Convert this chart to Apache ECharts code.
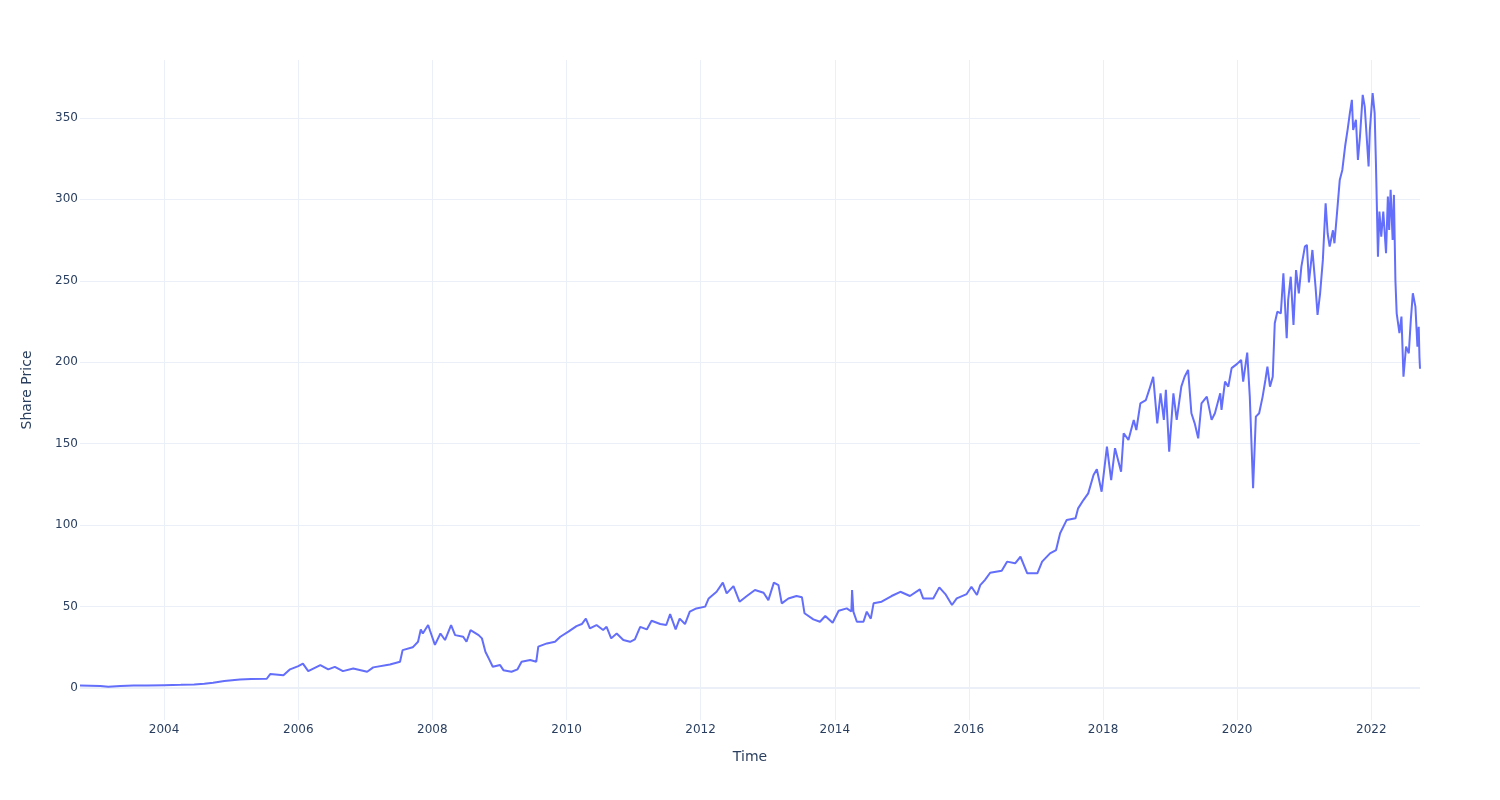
<!DOCTYPE html>
<html>
<head>
<meta charset="utf-8">
<script src="https://cdn.jsdelivr.net/npm/echarts@6/dist/echarts.min.js"></script>
<style>html,body{margin:0;padding:0;background:#fff}#chart{width:1500px;height:800px}</style>
</head>
<body>
<div id="chart"></div>
<script>
const dates = [
'2002-09-30','2002-11-24','2003-01-19','2003-03-03','2003-05-08','2003-07-19','2003-10-01','2004-01-01','2004-04-01','2004-06-13',
'2004-08-07','2004-09-24','2004-11-24','2005-02-17','2005-04-20','2005-07-13','2005-08-01','2005-10-12','2005-11-17','2006-01-01',
'2006-01-26','2006-02-24','2006-05-01','2006-06-13','2006-07-19','2006-09-01','2006-10-27','2007-01-11','2007-02-13','2007-05-15',
'2007-07-09','2007-07-23','2007-09-16','2007-10-15','2007-10-30','2007-11-10','2007-12-09','2007-12-20','2008-01-15','2008-02-14',
'2008-03-10','2008-04-12','2008-05-04','2008-06-17','2008-07-05','2008-07-27','2008-09-09','2008-09-27','2008-10-16','2008-11-03',
'2008-11-25','2009-01-04','2009-01-22','2009-03-07','2009-04-09','2009-05-01','2009-06-17','2009-07-20','2009-07-31','2009-09-16',
'2009-10-30','2009-11-28','2010-01-11','2010-02-24','2010-03-25','2010-04-16','2010-05-08','2010-06-13','2010-07-19','2010-08-07',
'2010-09-01','2010-10-01','2010-11-06','2010-12-13','2011-01-08','2011-02-06','2011-03-14','2011-04-09','2011-05-26','2011-06-28',
'2011-07-19','2011-08-18','2011-09-09','2011-10-08','2011-11-03','2011-12-09','2012-01-26','2012-02-14','2012-03-28','2012-05-01',
'2012-05-22','2012-06-28','2012-07-31','2012-09-09','2012-10-23','2012-12-09','2013-01-04','2013-02-03','2013-02-28','2013-03-18',
'2013-04-23','2013-06-06','2013-07-06','2013-07-20','2013-09-06','2013-10-12','2013-11-10','2013-12-20','2014-01-22','2014-03-07',
'2014-04-01','2014-04-05','2014-04-12','2014-05-01','2014-06-06','2014-06-24','2014-07-16','2014-07-31','2014-09-13','2014-11-06',
'2014-12-24','2015-02-14','2015-04-09','2015-04-27','2015-06-21','2015-07-24','2015-08-26','2015-10-01','2015-10-27','2015-12-20',
'2016-01-15','2016-02-14','2016-03-03','2016-03-28','2016-04-26','2016-06-28','2016-07-27','2016-09-09','2016-10-08','2016-11-14',
'2017-01-08','2017-02-03','2017-03-18','2017-04-20','2017-05-12','2017-06-17','2017-08-04','2017-08-18','2017-09-16','2017-10-12',
'2017-11-10','2017-11-28','2017-12-24','2018-01-22','2018-02-14','2018-03-07','2018-04-09','2018-04-23','2018-05-19','2018-06-17',
'2018-07-01','2018-07-23','2018-08-22','2018-09-09','2018-10-01','2018-10-23','2018-11-10','2018-11-28','2018-12-09','2018-12-27',
'2019-01-19','2019-02-06','2019-03-03','2019-03-21','2019-04-09','2019-04-27','2019-05-15','2019-06-03','2019-06-21','2019-07-20',
'2019-08-15','2019-09-02','2019-10-01','2019-10-08','2019-10-27','2019-11-14','2019-12-02','2020-01-01','2020-01-23','2020-02-03',
'2020-02-25','2020-03-10','2020-03-28','2020-04-12','2020-04-30','2020-05-19','2020-06-03','2020-06-14','2020-06-28','2020-07-13',
'2020-07-24','2020-08-07','2020-08-26','2020-09-09','2020-09-27','2020-10-05','2020-10-19','2020-11-03','2020-11-17','2020-12-02',
'2020-12-16','2021-01-04','2021-01-15','2021-01-26','2021-02-14','2021-03-03','2021-03-14','2021-03-28','2021-04-12','2021-04-27',
'2021-05-08','2021-05-19','2021-06-06','2021-06-14','2021-06-28','2021-07-13','2021-07-27','2021-08-11','2021-08-26','2021-09-06',
'2021-09-17','2021-09-24','2021-10-09','2021-10-20','2021-10-31','2021-11-15','2021-11-26','2021-12-10','2021-12-17','2021-12-24',
'2022-01-08','2022-01-19','2022-01-26','2022-02-06','2022-02-14','2022-02-24','2022-03-07','2022-03-22','2022-04-01','2022-04-08',
'2022-04-16','2022-04-27','2022-05-04','2022-05-12','2022-05-19','2022-06-03','2022-06-14','2022-06-25','2022-07-09','2022-07-24',
'2022-08-04','2022-08-15','2022-08-29','2022-09-09','2022-09-16','2022-09-20','2022-09-23'
];
const prices = [
1.5,1.4,1.2,0.8,1.2,1.6,1.6,1.8,2.0,2.2,
2.7,3.3,4.3,5.3,5.5,5.7,8.6,7.8,11.5,13.5,
15,10.4,14.1,11.5,13,10.4,12,10,12.7,14.5,
16.2,23.3,25,28.4,36,33.5,38.7,35,26.5,33.5,
29.5,38.7,32.5,31.5,28.4,35.6,32.5,30.5,22.3,18.2,
13.1,14.1,11,10,11.5,16.2,17.2,16.2,25.4,27.4,
28.4,31.5,34.6,38,39.3,42.6,36.6,38.7,35.6,37.6,
30.5,33.5,29.5,28.4,29.9,37.6,36,41.3,39.3,38.7,
45.4,36,42.6,39.3,46.9,48.9,50,55,59.1,64.7,
58.1,62.6,53,56.5,60.2,58.5,54,64.7,63.2,52,
55,56.5,55.7,45.9,42.2,40.7,44.2,40.1,47.5,48.9,
47,60.2,46.9,40.7,40.7,46.9,42.6,52,53,56.5,
59.1,56.5,60.6,55,55,61.8,57.7,51,55,57.7,
62.2,57.1,63.2,66.3,70.8,72,77.6,76.6,80.6,70.4,
70.4,77.6,82.7,84.7,95,103.2,104.2,110.3,115.4,119.5,
130.8,134.3,120.5,148.2,127.7,147.2,132.8,156.4,152.3,164.6,
158.4,174.8,176.8,183,191.1,162.5,180.9,164.6,183,145.1,
180.9,164.6,185,191.1,195.3,168.7,162.5,153.3,174.8,178.9,
164.6,168.7,180.9,170.7,188.1,185,196.4,199,201.4,188.1,
205.9,178.9,122.6,166.6,168.7,178.9,189.1,197.3,185,191.1,
223.9,231,230,254.6,214.7,238.2,252.5,222.9,256.6,242.3,
258.7,271,272,249,268.9,246.4,229,242.3,262.8,297.6,
279,271,281,273,291.5,311.9,318,332.4,343.7,352.9,
361,342.6,348.8,324.2,338.5,364.1,356.9,332.4,320.1,342.6,
365.2,352.9,322.2,264.8,292.5,277.1,292.5,266.9,301.7,281.2,
305.8,275.1,302.7,250.5,230,217.8,228,191.1,209.6,205.5,
226,242.3,234.1,209.6,221.8,203.4,196
];
const yTicks = [0, 50, 100, 150, 200, 250, 300, 350];
const xTickYears = [2004, 2006, 2008, 2010, 2012, 2014, 2016, 2018, 2020, 2022];

const toTs = s => { const p = s.split('-').map(Number); return Date.UTC(p[0], p[1] - 1, p[2]); };
const xTickValues = xTickYears.map(y => Date.UTC(y, 0, 1));
const seriesData = dates.map((d, i) => [toTs(d), prices[i]]);
const font = 'DejaVu Sans';
const txt = '#2a3f5f';
const grid = '#EBF0F8';

const chart = echarts.init(document.getElementById('chart'), null, {renderer: 'canvas'});
chart.setOption({
  animation: false,
  backgroundColor: '#fff',
  grid: {left: 80, right: 80, top: 60, bottom: 80, containLabel: false},
  xAxis: {
    type: 'value',
    min: toTs(dates[0]), max: toTs(dates[dates.length - 1]),
    name: 'Time', nameLocation: 'middle', nameGap: 30,
    nameTextStyle: {fontFamily: font, fontSize: 14, color: txt},
    axisLine: {show: false},
    axisTick: {show: false, customValues: xTickValues},
    axisLabel: {customValues: xTickValues, fontFamily: font, fontSize: 12, color: txt, margin: 4,
      formatter: v => String(new Date(v).getUTCFullYear())},
    splitLine: {show: true, lineStyle: {color: grid, width: 1}}
  },
  yAxis: {
    type: 'value',
    min: -19.6, max: 385.5,
    name: 'Share Price', nameLocation: 'middle', nameGap: 46,
    nameTextStyle: {fontFamily: font, fontSize: 14, color: txt},
    axisLine: {show: false},
    axisTick: {show: false, customValues: yTicks},
    axisLabel: {customValues: yTicks, fontFamily: font, fontSize: 12, color: txt, margin: 2,
      padding: [4, 0, 0, 0]},
    splitLine: {show: true, lineStyle: {color: grid, width: 1}}
  },
  series: [{
    type: 'line',
    data: seriesData,
    showSymbol: false,
    symbol: 'none',
    lineStyle: {color: '#636efa', width: 2},
    z: 3,
    markLine: {
      silent: true, symbol: 'none', label: {show: false},
      lineStyle: {color: grid, width: 2, type: 'solid'},
      data: [{yAxis: 0}],
      z: 1
    }
  }]
});
</script>
</body>
</html>
